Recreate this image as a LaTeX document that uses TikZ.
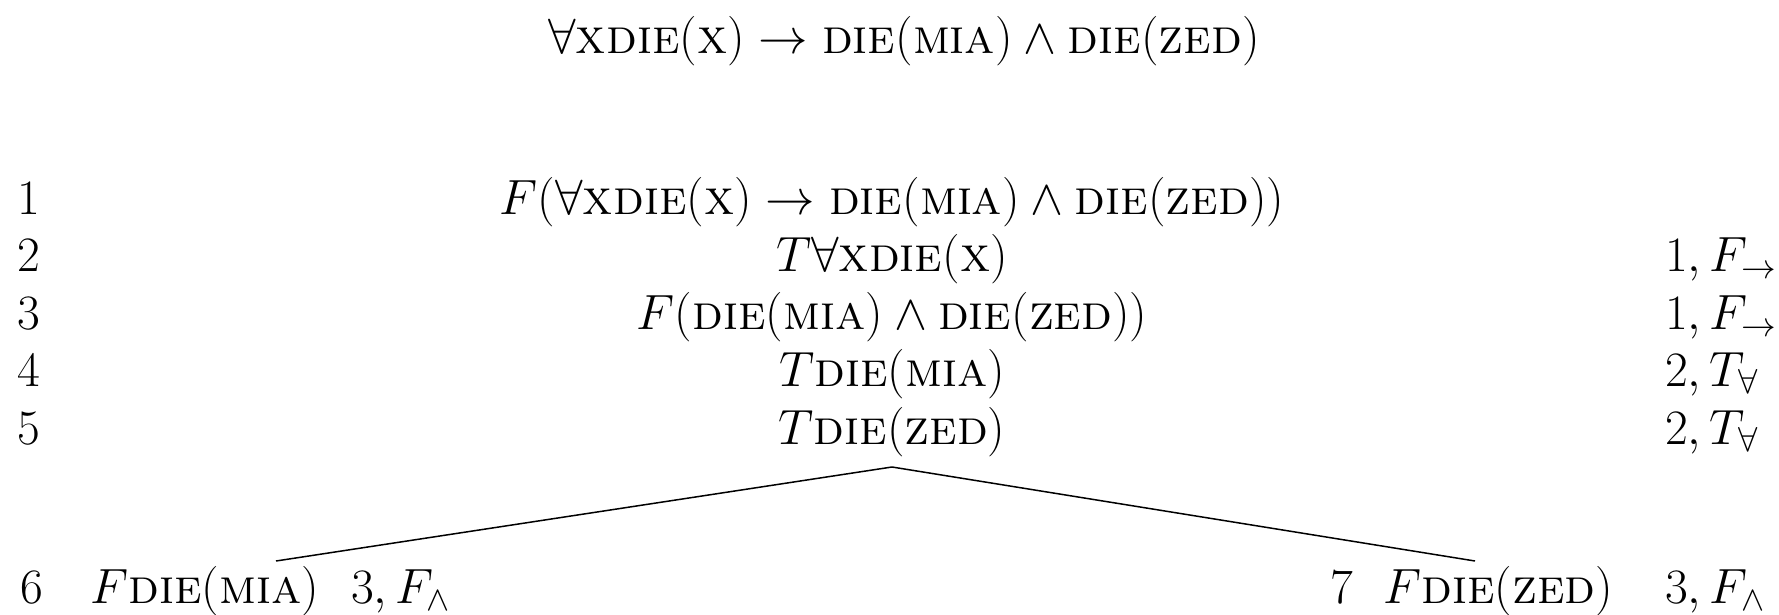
\RequirePackage{fix-cm}
\documentclass[tikz,border=0pt]{standalone}
\usepackage{amsmath}
\usepackage{fontspec}
\usetikzlibrary{positioning, calc}
\newcommand{\Die}{\textsc{die}}
\newcommand{\Mia}{\textsc{mia}}
\newcommand{\Zed}{\textsc{zed}}
\newcommand{\Vx}{\textsc{x}}

\begin{document}
\begin{tikzpicture}[
    x=1pt, y=-1pt,
    every node/.style={font=\fontsize{49.5}{59}\selectfont, inner sep=0pt},
    formula/.style={anchor=base},
    linenum/.style={anchor=base west},
    rulename/.style={anchor=base west},
    branch/.style={draw, line width=1.5pt}
]
    \useasboundingbox (0,0) rectangle (1779,615);

    % Root formula
    \node[formula] (title) at (904,54) {$\forall\Vx\Die(\Vx)\rightarrow\Die(\Mia)\wedge\Die(\Zed)$};

    % Tableau trunk
    \node[formula] (r1) at (892,214) {$F(\forall\Vx\Die(\Vx)\rightarrow\Die(\Mia)\wedge\Die(\Zed))$};
    \node[formula] (r2) at (892,271.5) {$T\forall\Vx\Die(\Vx)$};
    \node[formula] (r3) at (892,329) {$F(\Die(\Mia)\wedge\Die(\Zed))$};
    \node[formula] (r4) at (892,386.5) {$T\Die(\Mia)$};
    \node[formula] (r5) at (892,444) {$T\Die(\Zed)$};

    % Line numbers
    \node[linenum] (n1) at (17,214) {$1$};
    \node[linenum] (n2) at (17,271.5) {$2$};
    \node[linenum] (n3) at (17,329) {$3$};
    \node[linenum] (n4) at (17,386.5) {$4$};
    \node[linenum] (n5) at (17,444) {$5$};

    % Rule justifications
    \node[rulename] (j2) at (1665,271.5) {$1,F_{\rightarrow}$};
    \node[rulename] (j3) at (1665,329) {$1,F_{\rightarrow}$};
    \node[rulename] (j4) at (1665,386.5) {$2,T_{\forall}$};
    \node[rulename] (j5) at (1665,444) {$2,T_{\forall}$};

    % Branches
    \node[linenum] (n6) at (20,603) {$6$};
    \node[linenum] (r6) at (90,603) {$F\Die(\Mia)$};
    \node[linenum] (j6) at (351,603) {$3,F_{\wedge}$};
    \node[linenum] (n7) at (1330,603) {$7$};
    \node[linenum] (r7) at (1383,603) {$F\Die(\Zed)$};
    \node[linenum] (j7) at (1665,603) {$3,F_{\wedge}$};

    \coordinate (fork) at ($(r5.base)+(0,23)$);
    \coordinate (leftend) at (276,561);
    \coordinate (rightend) at (1475,561);
    \draw[branch] (fork) -- (leftend);
    \draw[branch] (fork) -- (rightend);

\end{tikzpicture}
\end{document}
